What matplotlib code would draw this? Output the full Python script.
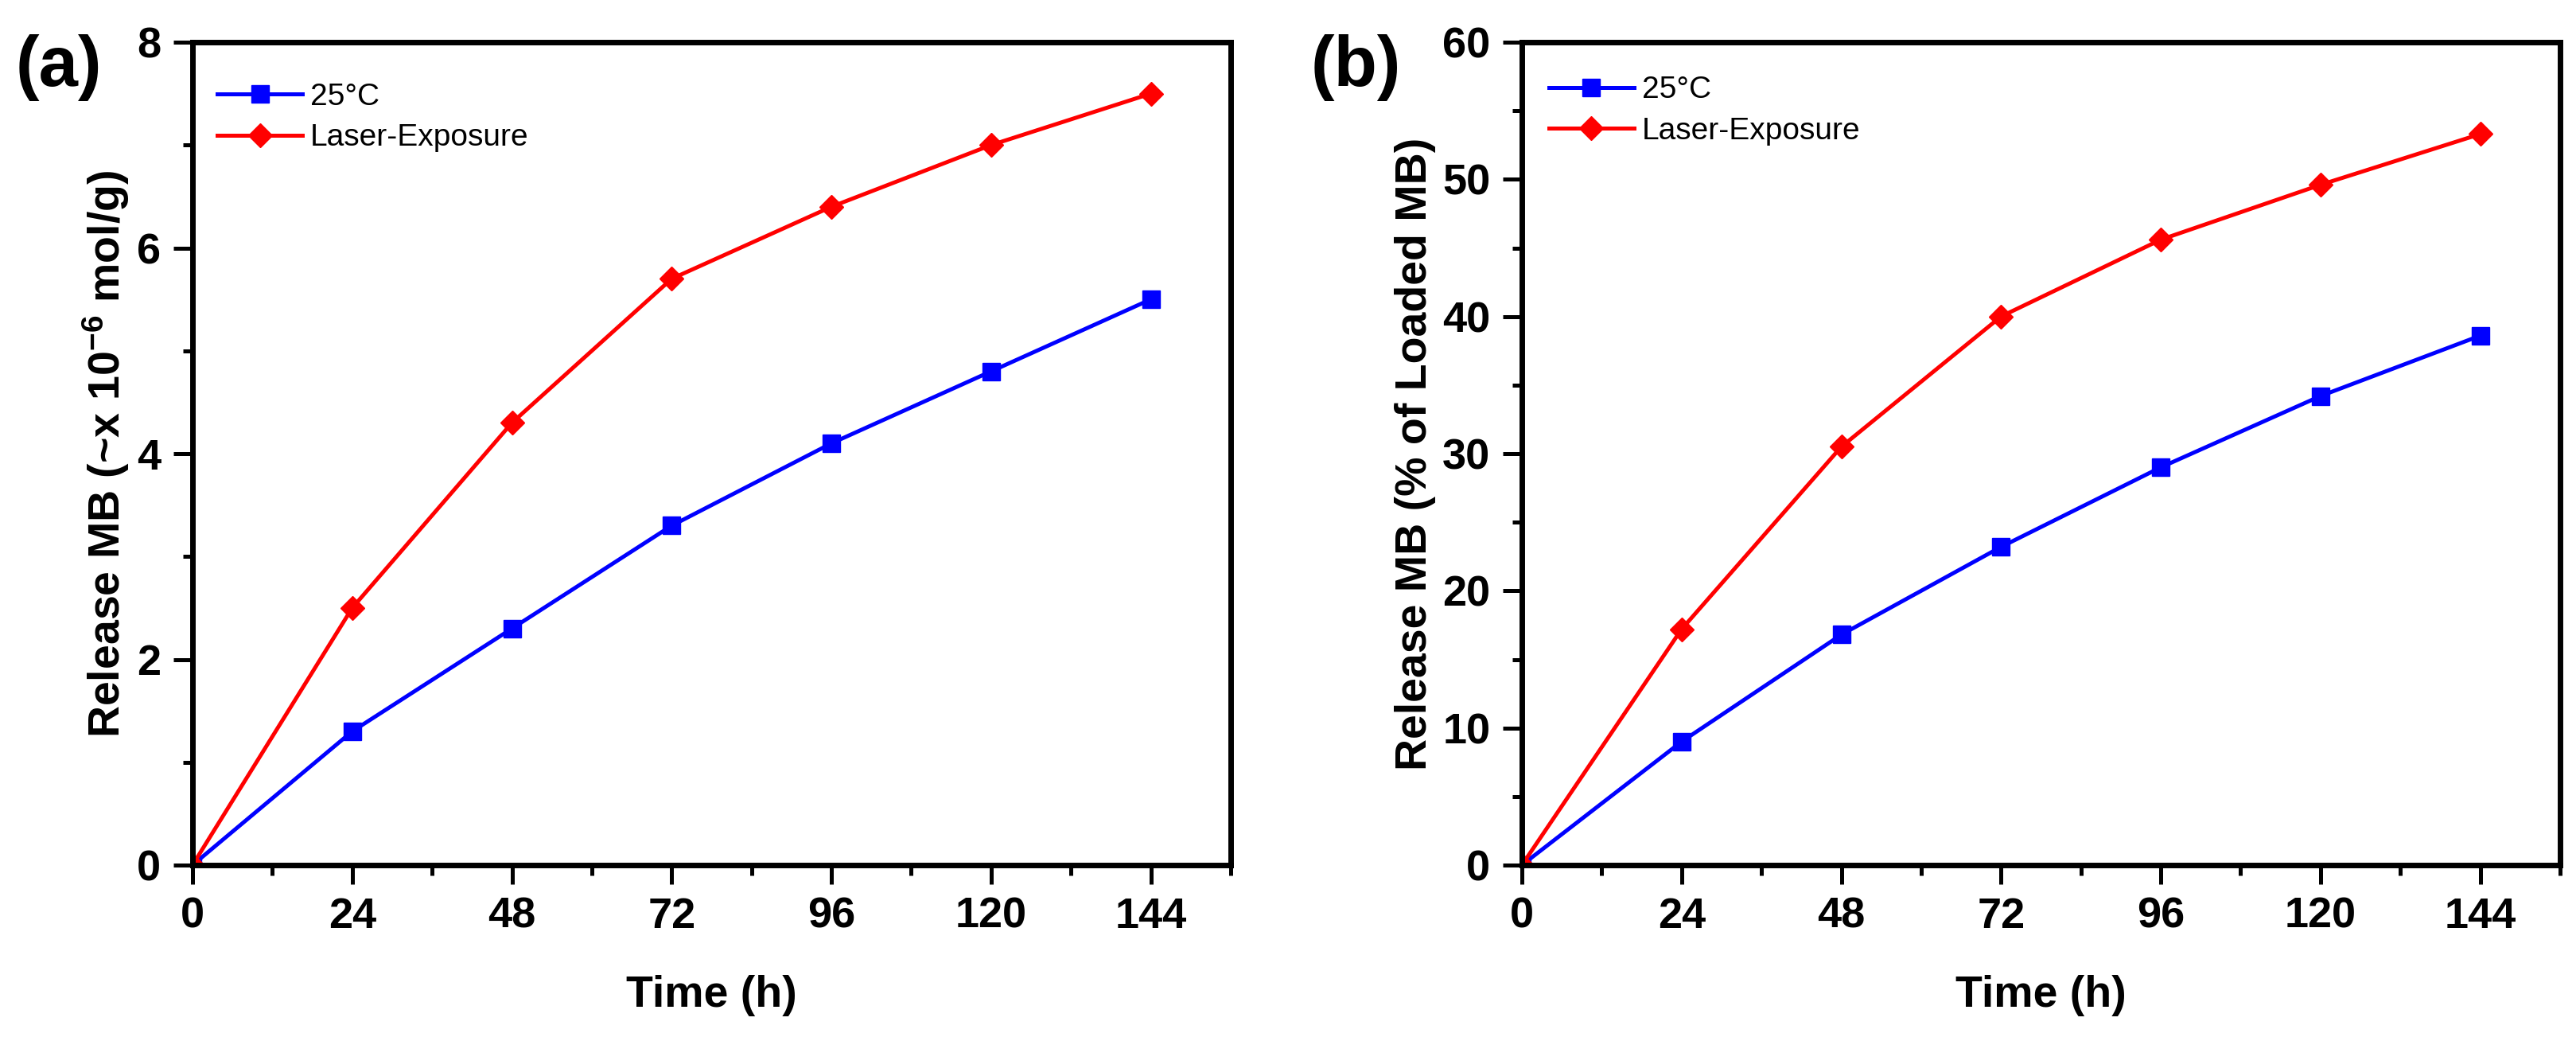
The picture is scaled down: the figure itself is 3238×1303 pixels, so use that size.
import numpy as np
import matplotlib
matplotlib.use("Agg")
import matplotlib.pyplot as plt
from matplotlib.ticker import MultipleLocator

plt.rcParams['font.family'] = ['Liberation Sans', 'DejaVu Sans']
plt.rcParams['mathtext.default'] = 'regular'

time_h = [0, 24, 48, 72, 96, 120, 144]

# panel (a): released MB, ~x 10^-6 mol/g
rel_25c_mol = [0, 1.3, 2.3, 3.3, 4.1, 4.8, 5.5]
rel_laser_mol = [0, 2.5, 4.3, 5.7, 6.4, 7.0, 7.5]

# panel (b): released MB, % of loaded
rel_25c_pct = [0, 9.0, 16.8, 23.2, 29.0, 34.2, 38.6]
rel_laser_pct = [0, 17.2, 30.5, 40.0, 45.6, 49.6, 53.3]

xticks = [0, 24, 48, 72, 96, 120, 144]

W, H = 3238, 1303
fig = plt.figure(figsize=(W / 100, H / 100), dpi=100)

def px_axes(left, right, top, bottom):
    return fig.add_axes([left / W, 1 - bottom / H, (right - left) / W, (bottom - top) / H])

ax_a = px_axes(242, 1547, 53, 1087)
ax_b = px_axes(1913, 3218, 53, 1087)

def style(ax, ylim, ymajor, yminor, ylabel, ylab_x, leg_xy):
    ax.plot(time_h, ylim[2], color='#0000ff', lw=3.6, marker='s', ms=16, label='25\u00b0C')
    ax.plot(time_h, ylim[3], color='#ff0000', lw=3.6, marker='D', ms=15, label='Laser-Exposure')
    ax.set_xlim(0, 156)
    ax.set_ylim(ylim[0], ylim[1])
    ax.set_xticks(xticks)
    ax.xaxis.set_minor_locator(MultipleLocator(12))
    ax.yaxis.set_major_locator(MultipleLocator(ymajor))
    ax.yaxis.set_minor_locator(MultipleLocator(yminor))
    for s in ax.spines.values():
        s.set_linewidth(5)
    ax.tick_params(which='major', direction='out', length=17, width=3.6, labelsize=39, pad=11.5)
    ax.tick_params(which='minor', direction='out', length=9, width=3.6)
    for lab in ax.get_xticklabels() + ax.get_yticklabels():
        lab.set_fontweight('bold')
    ax.set_xlabel('Time (h)', fontsize=40, fontweight='bold')
    ax.set_ylabel(ylabel, fontsize=40, fontweight='bold')
    ax.xaxis.set_label_coords(0.5, -0.133)
    ax.yaxis.set_label_coords(ylab_x, 0.5)
    ax.legend(loc='upper left', bbox_to_anchor=leg_xy, frameon=False, fontsize=28,
              handlelength=2.75, handletextpad=0.25, labelspacing=0.4,
              borderpad=0, borderaxespad=0)

style(ax_a, (0, 8, rel_25c_mol, rel_laser_mol), 2, 1,
      'Release MB (~x 10$^{-6}$ mol/g)', -0.059, (0.024, 0.951))
style(ax_b, (0, 60, rel_25c_pct, rel_laser_pct), 10, 5,
      'Release MB (% of Loaded MB)', -0.083, (0.026, 0.959))

fig.text(20 / W, 1 - 108 / H, '(a)', fontsize=64, fontweight='bold', va='baseline')
fig.text(1648 / W, 1 - 108 / H, '(b)', fontsize=64, fontweight='bold', va='baseline')

fig.savefig('out.png', dpi=100)
